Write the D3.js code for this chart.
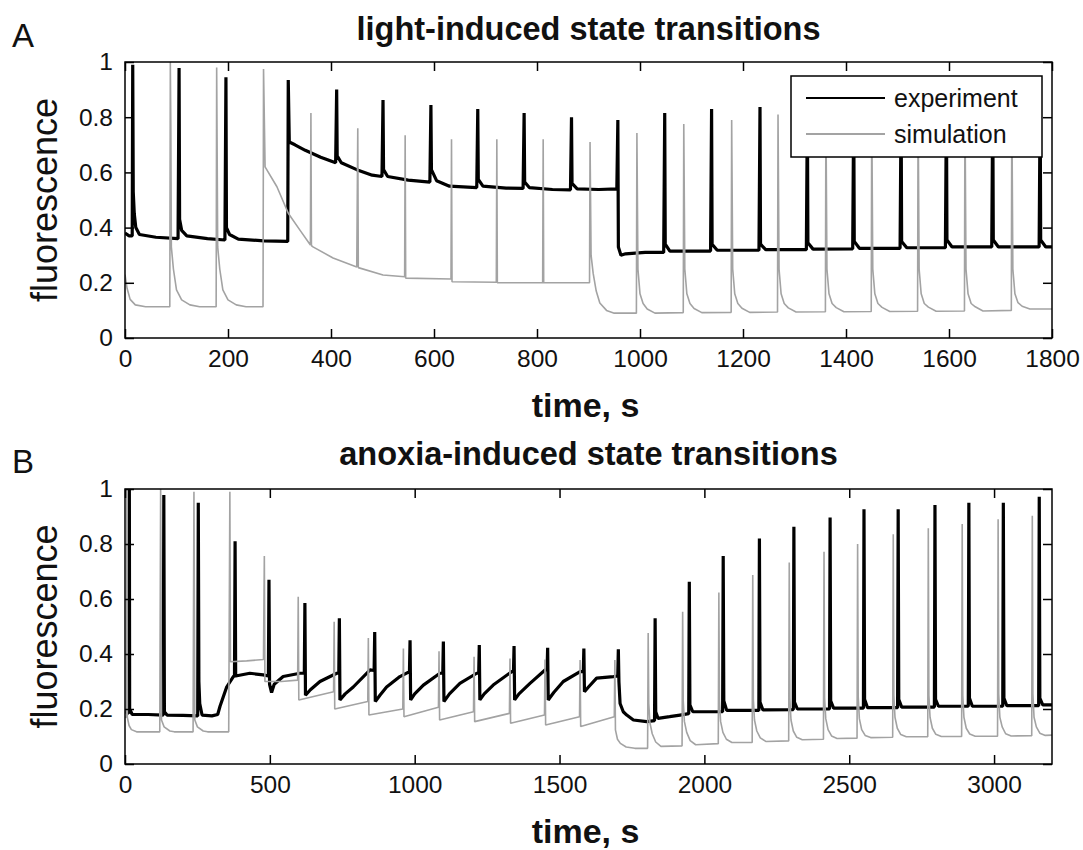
<!DOCTYPE html>
<html>
<head>
<meta charset="utf-8">
<script src="https://cdn.jsdelivr.net/npm/d3@7"></script>
<style>
  html, body { margin: 0; padding: 0; background: #fff; }
  svg { display: block; }
  text { font-family: "Liberation Sans", Arial, Helvetica, sans-serif; }
</style>
</head>
<body>
<script>
// ---------------- DATA ----------------
const panelLetters = ["A", "B"];
const panelTitles = ["light-induced state transitions", "anoxia-induced state transitions"];
const xLabel = "time, s";
const yLabel = "fluorescence";
const seriesNames = ["experiment", "simulation"];

const xDomainA = [0, 1800];
const xDomainB = [0, 3200];
const yDomain = [0, 1];
const xTicksA = [0, 200, 400, 600, 800, 1000, 1200, 1400, 1600, 1800];
const xTicksB = [0, 500, 1000, 1500, 2000, 2500, 3000];
const yTicks = [0, 0.2, 0.4, 0.6, 0.8, 1];
const yTickLabels = ["0", "0.2", "0.4", "0.6", "0.8", "1"];

// Panel A – experiment  [time s, fluorescence]
const expA = [
[0,0.38],[8,0.37],[14,0.37],[15,0.99],[16,0.53],[18,0.45],[21,0.40],[28,0.375],[60,0.365],[103,0.36],
[105,0.978],[106,0.43],[110,0.39],[120,0.37],[160,0.36],[194,0.355],[196,0.945],[197,0.40],[203,0.375],
[220,0.358],[270,0.352],[316,0.35],[317,0.935],[319,0.71],[330,0.70],[350,0.68],[380,0.655],[409,0.635],
[411,0.90],[412,0.66],[420,0.635],[450,0.61],[480,0.59],[499,0.585],[501,0.862],[502,0.61],[510,0.585],
[550,0.572],[592,0.565],[594,0.844],[595,0.61],[605,0.57],[630,0.55],[683,0.545],[685,0.83],[686,0.575],
[695,0.55],[740,0.543],[773,0.542],[775,0.815],[776,0.565],[785,0.545],[830,0.538],[865,0.537],[867,0.80],
[868,0.56],[878,0.54],[920,0.538],[955,0.54],[957,0.79],[958,0.33],[963,0.30],[972,0.305],[1010,0.31],
[1046,0.31],[1048,0.815],[1049,0.34],[1058,0.315],[1137,0.315],[1139,0.83],[1140,0.34],[1150,0.318],
[1231,0.318],[1233,0.837],[1234,0.34],[1244,0.32],[1323,0.32],[1325,0.84],[1326,0.345],[1336,0.322],
[1413,0.323],[1415,0.85],[1416,0.35],[1426,0.325],[1505,0.325],[1507,0.85],[1508,0.35],[1518,0.327],
[1593,0.327],[1595,0.86],[1596,0.355],[1606,0.33],[1683,0.33],[1685,0.86],[1686,0.355],[1696,0.33],
[1775,0.33],[1777,0.87],[1778,0.355],[1788,0.33],[1800,0.33]
];

// Panel A – simulation
const simA = [
[0,0.23],[4,0.18],[10,0.14],[20,0.12],[40,0.113],[87,0.113],[88,1.0],[89,0.76],[90,0.33],[94,0.25],
[100,0.174],[110,0.138],[126,0.12],[145,0.113],[177,0.113],[178,0.98],[180,0.33],[184,0.25],[190,0.174],
[200,0.138],[216,0.12],[235,0.113],[268,0.113],[269,0.975],[272,0.62],[295,0.548],[317,0.452],[340,0.39],
[360,0.337],[361,0.815],[362,0.335],[365,0.33],[404,0.29],[450,0.257],[452,0.76],[453,0.255],[501,0.228],
[543,0.222],[544,0.735],[545,0.217],[633,0.214],[634,0.72],[635,0.204],[721,0.202],[722,0.72],[723,0.2],
[811,0.2],[812,0.72],[813,0.2],[902,0.2],[903,0.71],[905,0.30],[909,0.235],[915,0.17],[922,0.127],
[935,0.10],[950,0.09],
[993,0.09],[994,0.743],[996,0.25],[1000,0.16],[1006,0.125],[1014,0.105],[1029,0.09],
[1084,0.092],[1085,0.775],[1087,0.25],[1091,0.16],[1097,0.125],[1105,0.107],[1120,0.092],
[1177,0.093],[1178,0.79],[1180,0.25],[1184,0.16],[1190,0.125],[1198,0.108],[1213,0.093],
[1267,0.094],[1268,0.81],[1270,0.25],[1274,0.16],[1280,0.125],[1288,0.109],[1303,0.094],
[1360,0.095],[1361,0.82],[1363,0.25],[1367,0.16],[1373,0.125],[1381,0.11],[1396,0.095],
[1449,0.096],[1450,0.83],[1452,0.25],[1456,0.16],[1462,0.125],[1470,0.111],[1485,0.096],
[1539,0.097],[1540,0.84],[1542,0.25],[1546,0.16],[1552,0.125],[1560,0.112],[1575,0.097],
[1630,0.098],[1631,0.845],[1633,0.25],[1637,0.16],[1643,0.125],[1651,0.113],[1666,0.098],
[1721,0.1],[1722,0.85],[1724,0.25],[1728,0.16],[1734,0.128],[1742,0.115],[1757,0.105],[1800,0.105]
];

// Panel B – experiment
const expB = [
[0,0.19],[13,0.185],[15,1.0],[16,0.2],[25,0.18],[80,0.18],[132,0.178],[134,0.978],[136,0.19],[145,0.178],
[200,0.177],[251,0.175],[253,0.95],[255,0.30],[258,0.22],[266,0.178],[300,0.175],[320,0.18],[328,0.21],
[351,0.28],[374,0.318],[378,0.32],[380,0.81],[382,0.32],[431,0.33],[477,0.324],[495,0.32],[497,0.67],
[499,0.29],[506,0.26],[515,0.29],[546,0.318],[604,0.33],[619,0.33],[621,0.585],[623,0.25],[640,0.27],
[673,0.30],[731,0.33],[738,0.33],[740,0.53],[742,0.233],[760,0.255],[788,0.28],[846,0.342],[860,0.34],
[862,0.48],[864,0.227],[880,0.25],[903,0.28],[949,0.318],[982,0.336],[984,0.45],[986,0.233],[1000,0.255],
[1030,0.287],[1087,0.33],[1097,0.33],[1099,0.445],[1101,0.227],[1120,0.255],[1156,0.293],[1214,0.33],
[1221,0.33],[1223,0.433],[1225,0.233],[1240,0.255],[1271,0.287],[1335,0.336],[1341,0.336],[1343,0.429],
[1345,0.233],[1360,0.255],[1398,0.293],[1450,0.342],[1457,0.342],[1459,0.423],[1461,0.233],[1480,0.26],
[1513,0.30],[1571,0.336],[1582,0.336],[1584,0.42],[1586,0.263],[1600,0.28],[1628,0.312],[1686,0.318],
[1701,0.32],[1703,0.417],[1705,0.30],[1709,0.22],[1720,0.19],[1732,0.178],[1755,0.16],[1801,0.154],
[1828,0.158],[1830,0.53],[1832,0.19],[1840,0.166],[1880,0.172],[1916,0.178],[1946,0.183],[1948,0.663],
[1950,0.215],[1960,0.19],[2063,0.19],[2065,0.756],[2067,0.23],[2077,0.195],[2188,0.195],[2190,0.82],
[2192,0.225],[2202,0.197],[2307,0.198],[2309,0.863],[2311,0.225],[2321,0.2],[2432,0.2],[2434,0.896],
[2436,0.23],[2446,0.203],[2549,0.203],[2551,0.926],[2553,0.235],[2563,0.205],[2667,0.205],[2669,0.926],
[2671,0.235],[2681,0.207],[2794,0.207],[2796,0.942],[2798,0.235],[2808,0.21],[2911,0.21],[2913,0.95],
[2915,0.24],[2925,0.21],[3030,0.21],[3032,0.95],[3034,0.24],[3044,0.212],[3154,0.212],[3156,0.972],
[3158,0.24],[3168,0.215],[3200,0.215]
];

// Panel B – simulation
const simB = [
[0,0.17],[4,0.17],[6,1.0],[8,0.17],[14,0.14],[22,0.125],[40,0.117],[120,0.117],[123,1.0],[126,0.16],
[135,0.135],[155,0.12],[170,0.117],[235,0.117],[238,0.99],[241,0.16],[250,0.135],[270,0.12],[285,0.117],
[358,0.117],[362,0.99],[364,0.372],[420,0.375],[478,0.38],[481,0.756],[483,0.30],[540,0.30],[596,0.305],
[598,0.608],[600,0.233],[720,0.263],[722,0.517],[724,0.20],[838,0.227],[840,0.458],[842,0.178],[959,0.2],
[961,0.42],[963,0.172],[1082,0.206],[1084,0.41],[1086,0.16],[1203,0.19],[1205,0.39],[1207,0.154],
[1327,0.184],[1329,0.384],[1331,0.148],[1448,0.178],[1450,0.38],[1452,0.142],[1569,0.172],[1571,0.378],
[1573,0.136],[1689,0.172],[1691,0.378],[1693,0.124],[1700,0.09],[1710,0.075],[1730,0.062],[1760,0.057],
[1804,0.057],[1806,0.476],[1808,0.22],[1812,0.15],[1820,0.11],[1832,0.08],[1850,0.064],
[1923,0.066],[1925,0.554],[1927,0.23],[1931,0.155],[1939,0.115],[1951,0.085],[1970,0.07],
[2048,0.074],[2050,0.624],[2052,0.23],[2056,0.155],[2064,0.115],[2076,0.09],[2095,0.078],
[2165,0.078],[2167,0.687],[2169,0.235],[2173,0.16],[2181,0.12],[2193,0.095],[2212,0.082],
[2291,0.084],[2293,0.733],[2295,0.24],[2299,0.16],[2307,0.12],[2319,0.097],[2338,0.088],
[2411,0.09],[2413,0.772],[2415,0.24],[2419,0.165],[2427,0.125],[2439,0.102],[2458,0.093],
[2527,0.094],[2529,0.80],[2531,0.245],[2535,0.165],[2543,0.125],[2555,0.104],[2574,0.096],
[2650,0.097],[2652,0.835],[2654,0.25],[2658,0.17],[2666,0.13],[2678,0.107],[2697,0.099],
[2771,0.099],[2773,0.857],[2775,0.25],[2779,0.17],[2787,0.13],[2799,0.108],[2818,0.1],
[2888,0.1],[2890,0.873],[2892,0.25],[2896,0.17],[2904,0.13],[2916,0.109],[2935,0.101],
[3012,0.101],[3014,0.89],[3016,0.255],[3020,0.17],[3028,0.135],[3040,0.11],[3059,0.102],
[3130,0.103],[3132,0.903],[3134,0.255],[3138,0.17],[3146,0.135],[3158,0.112],[3177,0.104],[3200,0.105]
];

// ---------------- DRAWING ----------------
const W = 1083, H = 850;
const FONT = '"Liberation Sans", Arial, Helvetica, sans-serif';
const svg = d3.select("body").append("svg").attr("width", W).attr("height", H);
svg.append("rect").attr("width", W).attr("height", H).attr("fill", "#fff");

const panels = [
  { id: "A", left: 125, right: 1052, top: 62, bottom: 338, xDomain: xDomainA, xTicks: xTicksA,
    exp: expA, sim: simA, letter: panelLetters[0], title: panelTitles[0], legend: true,
    letterY: 47, titleY: 40, xlabelY: 417 },
  { id: "B", left: 125, right: 1052, top: 489, bottom: 764, xDomain: xDomainB, xTicks: xTicksB,
    exp: expB, sim: simB, letter: panelLetters[1], title: panelTitles[1], legend: false,
    letterY: 473, titleY: 465, xlabelY: 843 }
];

panels.forEach(p => {
  const x = d3.scaleLinear().domain(p.xDomain).range([p.left, p.right]);
  const y = d3.scaleLinear().domain(yDomain).range([p.bottom, p.top]);
  const g = svg.append("g");

  // clip
  const clipId = "clip" + p.id;
  svg.append("clipPath").attr("id", clipId).append("rect")
    .attr("x", p.left).attr("y", p.top - 1).attr("width", p.right - p.left).attr("height", p.bottom - p.top + 1);

  const line = d3.line().x(d => x(d[0])).y(d => y(d[1]));
  const lines = g.append("g").attr("clip-path", `url(#${clipId})`);
  lines.append("path").datum(p.exp).attr("d", line)
    .attr("fill", "none").attr("stroke", "#000").attr("stroke-width", 3.2)
    .attr("stroke-linejoin", "bevel");
  lines.append("path").datum(p.sim).attr("d", line)
    .attr("fill", "none").attr("stroke", "#a3a3a3").attr("stroke-width", 1.6)
    .attr("stroke-linejoin", "bevel");

  // axes
  const fmtY = d => yTickLabels[yTicks.indexOf(d)];
  const styleAxis = sel => {
    sel.select(".domain").remove();
    sel.selectAll(".tick line").attr("stroke", "#000").attr("stroke-width", 1.5);
    sel.selectAll("text").attr("font-family", FONT).attr("font-size", 24.5).attr("fill", "#111");
  };
  g.append("g").attr("transform", `translate(0,${p.bottom})`)
    .call(d3.axisBottom(x).tickValues(p.xTicks).tickSizeInner(-9).tickSizeOuter(0).tickPadding(12)
      .tickFormat(d3.format("d")))
    .call(styleAxis);
  g.append("g").attr("transform", `translate(0,${p.top})`)
    .call(d3.axisTop(x).tickValues(p.xTicks).tickSizeInner(-9).tickSizeOuter(0).tickFormat(""))
    .call(styleAxis);
  g.append("g").attr("transform", `translate(${p.left},0)`)
    .call(d3.axisLeft(y).tickValues(yTicks).tickSizeInner(-9).tickSizeOuter(0).tickPadding(12).tickFormat(fmtY))
    .call(styleAxis);
  g.append("g").attr("transform", `translate(${p.right},0)`)
    .call(d3.axisRight(y).tickValues(yTicks).tickSizeInner(-9).tickSizeOuter(0).tickFormat(""))
    .call(styleAxis);

  // frame
  g.append("rect").attr("x", p.left).attr("y", p.top)
    .attr("width", p.right - p.left).attr("height", p.bottom - p.top)
    .attr("fill", "none").attr("stroke", "#000").attr("stroke-width", 1.5);

  // texts
  const cx = (p.left + p.right) / 2;
  g.append("text").attr("x", cx).attr("y", p.titleY).attr("text-anchor", "middle")
    .attr("font-size", 32.5).attr("font-weight", "bold").attr("fill", "#111").text(p.title);
  g.append("text").attr("x", 12).attr("y", p.letterY)
    .attr("font-size", 33).attr("fill", "#111").text(p.letter);
  g.append("text").attr("x", cx - 3).attr("y", p.xlabelY).attr("text-anchor", "middle")
    .attr("font-size", 34).attr("font-weight", "bold").attr("fill", "#111").text(xLabel);
  g.append("text").attr("transform", `translate(57,${(p.top + p.bottom) / 2}) rotate(-90)`)
    .attr("text-anchor", "middle").attr("font-size", 36).attr("fill", "#111").text(yLabel);

  // legend
  if (p.legend) {
    const lg = g.append("g");
    lg.append("rect").attr("x", 791).attr("y", 76).attr("width", 251).attr("height", 81)
      .attr("fill", "#fff").attr("stroke", "#000").attr("stroke-width", 1.5);
    const rows = [{ name: seriesNames[0], color: "#000", yy: 98 }, { name: seriesNames[1], color: "#a3a3a3", yy: 134 }];
    rows.forEach(r => {
      lg.append("line").attr("x1", 806).attr("x2", 885).attr("y1", r.yy).attr("y2", r.yy)
        .attr("stroke", r.color).attr("stroke-width", 2);
      lg.append("text").attr("x", 894).attr("y", r.yy + 8.5).attr("font-size", 25).attr("fill", "#111").text(r.name);
    });
  }
});
</script>
</body>
</html>
